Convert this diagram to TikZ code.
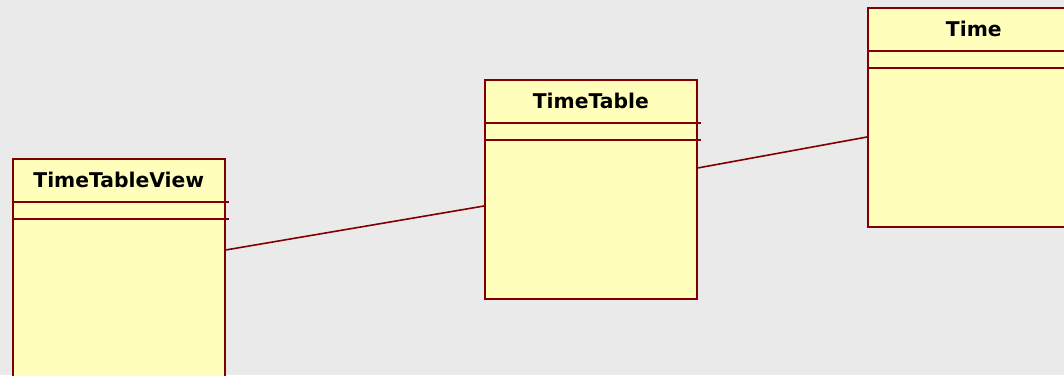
\documentclass[tikz,border=0pt]{standalone}
\usepackage{fontspec}
\setmainfont{DejaVu Sans}
\usetikzlibrary{backgrounds}
\usetikzlibrary{calc}
\definecolor{umlborder}{HTML}{800000}
\definecolor{umlfill}{HTML}{FFFFBB}
\definecolor{umlback}{HTML}{EAEAEA}
\tikzset{
  classbox/.style={draw=umlborder, fill=umlfill, rectangle, line width=1.6pt, minimum width=212pt, minimum height=219pt, anchor=north west, inner sep=0pt},
  classname/.style={font=\bfseries\fontsize{20.3}{23}\selectfont, text=black, anchor=center},
  assoc/.style={draw=umlborder, line width=1.6pt}
}
\begin{document}
\begin{tikzpicture}[x=1pt, y=-1pt]
\useasboundingbox (0,0) rectangle (1064,375);
\fill[umlback] (0,0) rectangle (1064,375);
\clip (0,0) rectangle (1064,375);

\node[classbox] (ttv) at (12,158) {};
\node[classbox] (tt) at (484,79) {};
\node[classbox] (tm) at (867,7) {};

\node[classname] (ttvname) at ($(ttv.north)+(0,22)$) {TimeTableView};
\node[classname] (ttname) at ($(tt.north)+(0,22)$) {TimeTable};
\node[classname] (tmname) at ($(tm.north)+(0,22)$) {Time};

% compartments
\foreach \c in {ttv, tt, tm} {
  \draw[assoc] ($(\c.north west)+(0,44)$) -- ($(\c.north east)+(3,44)$);
  \draw[assoc] ($(\c.north west)+(0,61)$) -- ($(\c.north east)+(3,61)$);
}

% draw connectors
\draw[assoc] ($(ttv.north east)+(0,92)$) -- ($(tt.north west)+(0,127)$);
\draw[assoc] ($(tt.north east)+(0,89)$) -- ($(tm.north west)+(0,130)$);

\end{tikzpicture}
\end{document}
